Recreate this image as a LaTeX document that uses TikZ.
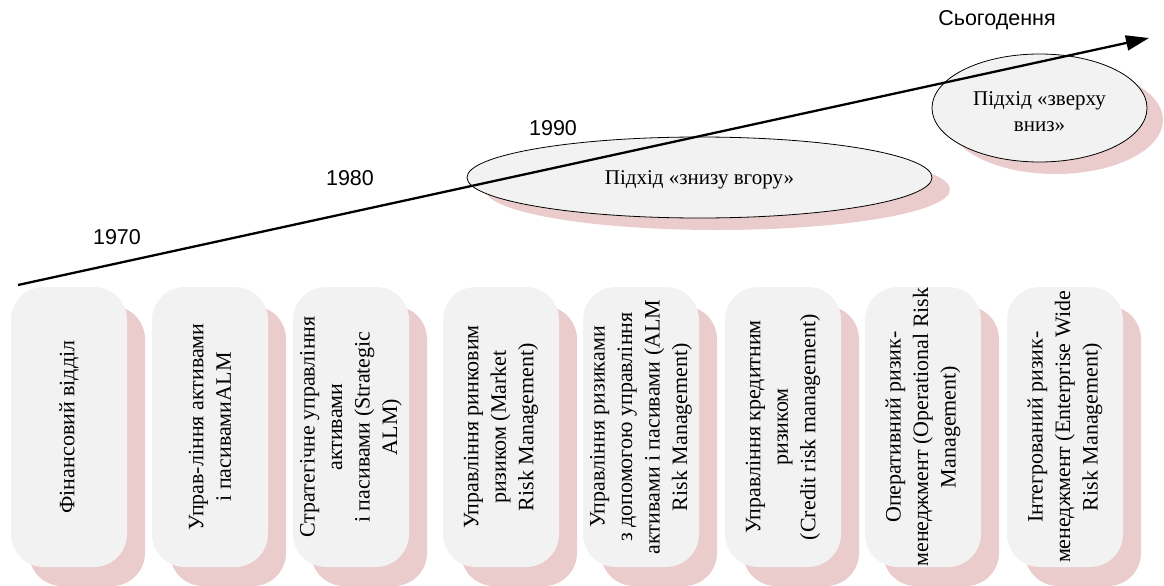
\documentclass[tikz,border=0pt]{standalone}
\usepackage{fontspec}
\setmainfont{Liberation Serif}
\newfontfamily\labelfont{Liberation Sans}
\usetikzlibrary{arrows.meta,shapes.geometric}
\definecolor{boxfill}{HTML}{F2F2F2}
\definecolor{shade}{HTML}{EBCCCC}
\begin{document}
\begin{tikzpicture}[x=1pt,y=-1pt,
  stagebox/.style={rectangle, rounded corners=33pt, fill=boxfill,
    minimum width=116pt, minimum height=280pt, inner sep=0pt},
  stageshade/.style={stagebox, fill=shade},
  stagetext/.style={rotate=90, align=center, inner sep=0pt,
    font=\fontsize{22}{27.5}\selectfont},
  approach/.style={ellipse, draw=black, line width=0.8pt, fill=boxfill,
    inner sep=0pt},
  approachshade/.style={ellipse, fill=shade, draw=none, inner sep=0pt},
  approachtext/.style={align=center, inner sep=0pt,
    font=\fontsize{21}{26}\selectfont},
  year/.style={font=\labelfont\fontsize{21.5}{25}\selectfont, inner sep=0pt},
  timeline/.style={line width=2.3pt, -{Triangle[length=23pt,width=15pt]}}
]
\useasboundingbox (0,0) rectangle (1164,586);

% stage boxes with their shadows
\foreach \cx/\nm in {69/b1,210/b2,351/b3,501/b4,641/b5,783/b6,923/b7,1065/b8}{
  \node[stageshade] (\nm s) at (\cx+18,446) {};
  \node[stagebox] (\nm) at (\cx,427) {};
}

\node[stagetext] (t1) at (b1) {Фінансовий відділ};
\node[stagetext] (t2) at (b2) {Управ-ління активами\\і пасивамиALM};
\node[stagetext] (t3) at (b3) {Стратегічне управління\\активами\\і пасивами (Strategic\\ALM)};
\node[stagetext] (t4) at (b4) {Управління ринковим\\ризиком (Market\\Risk Management)};
\node[stagetext] (t5) at (b5) {Управління ризиками\\з допомогою управління\\активами і пасивами (ALM\\Risk Management)};
\node[stagetext] (t6) at (b6) {Управління кредитним\\ризиком\\(Credit risk management)};
\node[stagetext] (t7) at (b7) {Оперативний ризик-\\менеджмент (Operational Risk\\Management)};
\node[stagetext] (t8) at (b8) {Інтегрований ризик-\\менеджмент (Enterprise Wide\\Risk Management)};

% approaches
\node[approachshade, minimum width=465pt, minimum height=81pt] (e1s) at (717.5,189.5) {};
\node[approachshade, minimum width=215pt, minimum height=108pt] (e2s) at (1055.5,120) {};
\node[approach, minimum width=465pt, minimum height=81pt] (e1) at (699.5,177.5) {};
\node[approach, minimum width=215pt, minimum height=108pt] (e2) at (1039.5,108) {};
\node[approachtext] (e1t) at (699.5,180) {Підхід «знизу вгору»};
\node[approachtext] (e2t) at (1039.5,112) {Підхід «зверху\\вниз»};

% timeline
\coordinate (tstart) at (18,285);
\coordinate (tend) at (1149,38);
\draw[timeline] (tstart) -- (tend);

\node[year] (y1970) at (117,237) {1970};
\node[year] (y1980) at (350,178) {1980};
\node[year] (y1990) at (553,128) {1990};
\node[year] (ynow) at (997,20) {Сьогодення};
\end{tikzpicture}
\end{document}
